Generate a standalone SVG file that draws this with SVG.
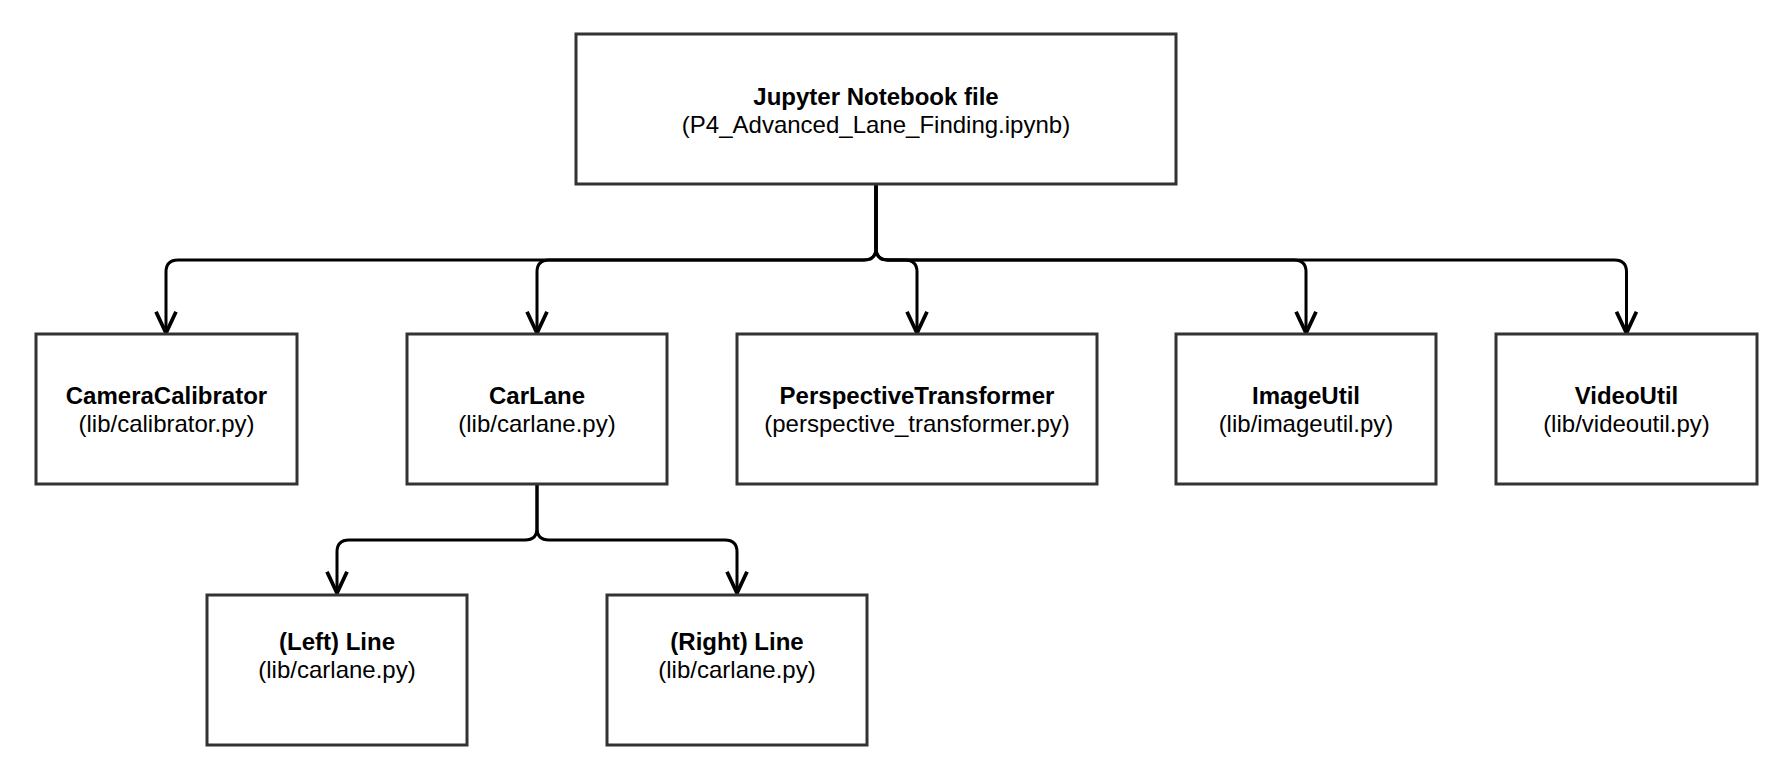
<svg xmlns="http://www.w3.org/2000/svg" width="1772" height="784" viewBox="0 0 1772 784">
<style>
.box{fill:#ffffff;stroke:#333333;stroke-width:3}
.t{font-family:"Liberation Sans",Arial,sans-serif;font-size:24px;fill:#000000;text-anchor:middle}
.b{font-weight:bold}
.edge{fill:none;stroke:#000000;stroke-width:3;stroke-linejoin:round}
</style>
<defs>
<marker id="arr" markerUnits="userSpaceOnUse" markerWidth="30" markerHeight="30" viewBox="-20 -12 24 24" refX="0" refY="0" orient="auto">
<path d="M-17,-8 L0,0 L-17,8" fill="none" stroke="#000000" stroke-width="3" stroke-linejoin="miter"/>
</marker>
</defs>
<rect width="1772" height="784" fill="#ffffff"/>
<g id="connectors">
<path class="edge" marker-end="url(#arr)" d="M876,184 V248 Q876,260 864,260 H178 Q166,260 166,272 V333"/>
<path class="edge" marker-end="url(#arr)" d="M876,184 V248 Q876,260 864,260 H549 Q537,260 537,272 V333"/>
<path class="edge" marker-end="url(#arr)" d="M876,184 V248 Q876,260 888,260 H905 Q917,260 917,272 V333"/>
<path class="edge" marker-end="url(#arr)" d="M876,184 V248 Q876,260 888,260 H1294 Q1306,260 1306,272 V333"/>
<path class="edge" marker-end="url(#arr)" d="M876,184 V248 Q876,260 888,260 H1614.5 Q1626.5,260 1626.5,272 V333"/>
<path class="edge" marker-end="url(#arr)" d="M537,485 V528 Q537,540 525,540 H349 Q337,540 337,552 V593"/>
<path class="edge" marker-end="url(#arr)" d="M537,485 V528 Q537,540 549,540 H725 Q737,540 737,552 V593"/>
</g>
<g id="notebook">
<rect class="box" x="576" y="34" width="600" height="150"/>
<text class="t b" x="876" y="105">Jupyter Notebook file</text>
<text class="t" x="876" y="133">(P4_Advanced_Lane_Finding.ipynb)</text>
</g>
<g id="calibrator">
<rect class="box" x="36" y="334" width="261" height="150"/>
<text class="t b" x="166.5" y="404">CameraCalibrator</text>
<text class="t" x="166.5" y="432">(lib/calibrator.py)</text>
</g>
<g id="carlane">
<rect class="box" x="407" y="334" width="260" height="150"/>
<text class="t b" x="537" y="404">CarLane</text>
<text class="t" x="537" y="432">(lib/carlane.py)</text>
</g>
<g id="perspective">
<rect class="box" x="737" y="334" width="360" height="150"/>
<text class="t b" x="917" y="404">PerspectiveTransformer</text>
<text class="t" x="917" y="432">(perspective_transformer.py)</text>
</g>
<g id="imageutil">
<rect class="box" x="1176" y="334" width="260" height="150"/>
<text class="t b" x="1306" y="404">ImageUtil</text>
<text class="t" x="1306" y="432">(lib/imageutil.py)</text>
</g>
<g id="videoutil">
<rect class="box" x="1496" y="334" width="261" height="150"/>
<text class="t b" x="1626.5" y="404">VideoUtil</text>
<text class="t" x="1626.5" y="432">(lib/videoutil.py)</text>
</g>
<g id="leftline">
<rect class="box" x="207" y="595" width="260" height="150"/>
<text class="t b" x="337" y="650">(Left) Line</text>
<text class="t" x="337" y="678">(lib/carlane.py)</text>
</g>
<g id="rightline">
<rect class="box" x="607" y="595" width="260" height="150"/>
<text class="t b" x="737" y="650">(Right) Line</text>
<text class="t" x="737" y="678">(lib/carlane.py)</text>
</g>
</svg>
